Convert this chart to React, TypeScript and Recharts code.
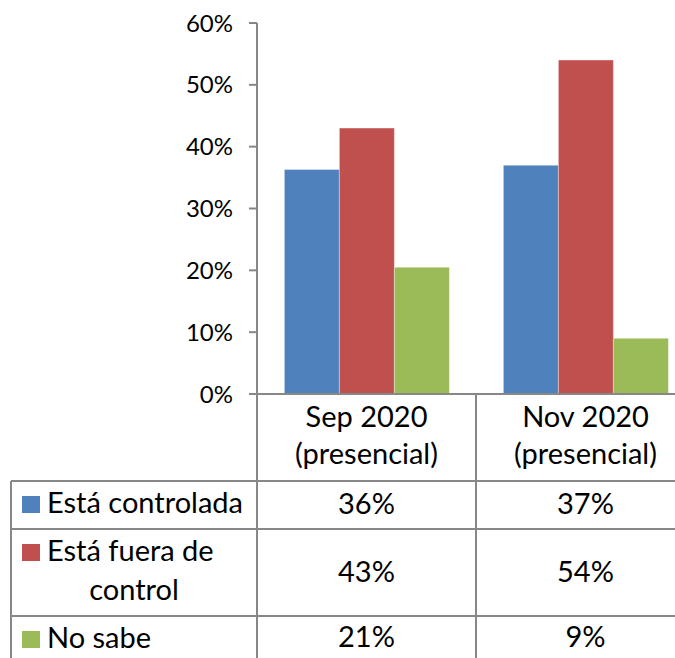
import { BarChart, Bar, XAxis, YAxis } from "recharts";

const categories = ["Sep 2020 (presencial)", "Nov 2020 (presencial)"];
const categoryLines = [
  ["Sep 2020", "(presencial)"],
  ["Nov 2020", "(presencial)"],
];
const seriesNames = ["Está controlada", "Está fuera de control", "No sabe"];
const seriesLines = [["Está controlada"], ["Está fuera de", "control"], ["No sabe"]];
const seriesColors = ["#4F81BD", "#C0504D", "#9BBB59"];
const controlada = [36.3, 37.0];
const fueraDeControl = [43.0, 54.0];
const noSabe = [20.5, 9.0];
const yTicks = [0, 10, 20, 30, 40, 50, 60];

const seriesValues = [controlada, fueraDeControl, noSabe];
const seriesKeys = ["controlada", "fuera", "noSabe"];

const data = categories.map((category, i) => ({
  category,
  controlada: controlada[i],
  fuera: fueraDeControl[i],
  noSabe: noSabe[i],
}));

const FONT = "Lato, 'Open Sans', sans-serif";
const TABLE_FONT_SIZE = 29;
const LINE = "#878787";
const PLOT_BOTTOM = 394;
const TABLE_LEFT = 11;
const TABLE_BOTTOM = 680;
// row separators of the data table, and text baselines per row
const ROW_LINES = [481, 529, 616];
const LABEL_BASELINES = [[513], [561, 600], [648]];
const VALUE_BASELINES = [514, 582, 647];
const HEADER_BASELINES = [427, 464];

function TableColumn(props: any) {
  const { x, payload, index } = props;
  const bw = payload && payload.offset ? payload.offset * 2 : 219;
  const left = x - bw / 2;
  const right = x + bw / 2;
  const i = payload && payload.index != null ? payload.index : index;
  return (
    <g>
      <line x1={left} x2={left} y1={PLOT_BOTTOM} y2={TABLE_BOTTOM} stroke={LINE} strokeWidth={2} />
      <line x1={right} x2={right} y1={PLOT_BOTTOM} y2={TABLE_BOTTOM} stroke={LINE} strokeWidth={2} />
      {ROW_LINES.map((ry) => (
        <line key={ry} x1={left} x2={right} y1={ry} y2={ry} stroke={LINE} strokeWidth={2} />
      ))}
      {categoryLines[i].map((t, k) => (
        <text key={k} x={x} y={HEADER_BASELINES[k]} textAnchor="middle" fontFamily={FONT} fontSize={TABLE_FONT_SIZE} fill="#000">
          {t}
        </text>
      ))}
      {seriesValues.map((vals, s) => (
        <text key={s} x={x} y={VALUE_BASELINES[s]} textAnchor="middle" fontFamily={FONT} fontSize={TABLE_FONT_SIZE} fill="#000">
          {Math.round(vals[i])}%
        </text>
      ))}
      {i === 0 && (
        <g>
          <line x1={TABLE_LEFT} x2={TABLE_LEFT} y1={ROW_LINES[0]} y2={TABLE_BOTTOM} stroke={LINE} strokeWidth={2} />
          {ROW_LINES.map((ry) => (
            <line key={ry} x1={TABLE_LEFT} x2={left} y1={ry} y2={ry} stroke={LINE} strokeWidth={2} />
          ))}
          {seriesLines.map((lines, s) => (
            <g key={s}>
              <rect x={22} y={LABEL_BASELINES[s][0] - 17} width={18} height={17} fill={seriesColors[s]} />
              {lines.map((t, k) =>
                k === 0 ? (
                  <text key={k} x={47} y={LABEL_BASELINES[s][k]} fontFamily={FONT} fontSize={TABLE_FONT_SIZE} fill="#000">
                    {t}
                  </text>
                ) : (
                  <text key={k} x={(TABLE_LEFT + left) / 2} y={LABEL_BASELINES[s][k]} textAnchor="middle" fontFamily={FONT} fontSize={TABLE_FONT_SIZE} fill="#000">
                    {t}
                  </text>
                )
              )}
            </g>
          ))}
        </g>
      )}
    </g>
  );
}

export default function App() {
  return (
    <div style={{ position: "fixed", top: 0, left: 0, width: 675, height: 658, overflow: "hidden", background: "#fff" }}>
      <BarChart
        width={700}
        height={658}
        data={data}
        margin={{ top: 23, right: 5, left: 0, bottom: 0 }}
        barCategoryGap="12.5%"
        barGap={0}
      >
        <XAxis
          dataKey="category"
          height={264}
          interval={0}
          tickLine={false}
          axisLine={{ stroke: LINE, strokeWidth: 2 }}
          tick={<TableColumn />}
        />
        <YAxis
          width={257}
          domain={[0, 60]}
          ticks={yTicks}
          tickFormatter={(v) => `${v}%`}
          tickSize={8}
          tickMargin={16}
          axisLine={{ stroke: LINE, strokeWidth: 2 }}
          tickLine={{ stroke: LINE, strokeWidth: 2 }}
          tick={{ fill: "#000", fontSize: 24, fontFamily: FONT }}
        />
        {seriesKeys.map((k, s) => (
          <Bar
            key={k}
            dataKey={k}
            name={seriesNames[s]}
            fill={seriesColors[s]}
            stroke="rgba(255,255,255,0.35)"
            strokeWidth={1}
            isAnimationActive={false}
          />
        ))}
      </BarChart>
    </div>
  );
}
